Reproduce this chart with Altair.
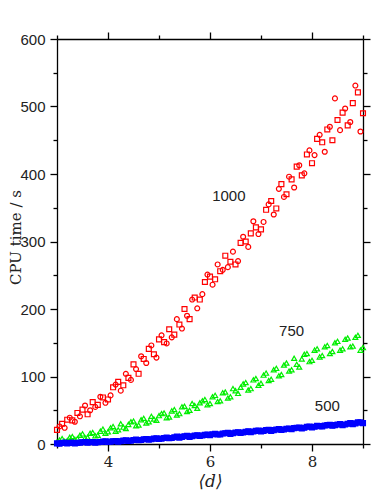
import altair as alt
import pandas as pd

# x grids
x_a = [3.0, 3.1, 3.2, 3.3, 3.4, 3.5, 3.6, 3.7, 3.8, 3.9,
       4.0, 4.1, 4.2, 4.3, 4.4, 4.5, 4.6, 4.7, 4.8, 4.9,
       5.0, 5.1, 5.2, 5.3, 5.4, 5.5, 5.6, 5.7, 5.8, 5.9,
       6.0, 6.1, 6.2, 6.3, 6.4, 6.5, 6.6, 6.7, 6.8, 6.9,
       7.0, 7.1, 7.2, 7.3, 7.4, 7.5, 7.6, 7.7, 7.8, 7.9,
       8.0, 8.1, 8.2, 8.3, 8.4, 8.5, 8.6, 8.7, 8.8, 8.9, 9.0]
x_b = [3.05, 3.15, 3.25, 3.35, 3.45, 3.55, 3.65, 3.75, 3.85, 3.95,
       4.05, 4.15, 4.25, 4.35, 4.45, 4.55, 4.65, 4.75, 4.85, 4.95,
       5.05, 5.15, 5.25, 5.35, 5.45, 5.55, 5.65, 5.75, 5.85, 5.95,
       6.05, 6.15, 6.25, 6.35, 6.45, 6.55, 6.65, 6.75, 6.85, 6.95,
       7.05, 7.15, 7.25, 7.35, 7.45, 7.55, 7.65, 7.75, 7.85, 7.95,
       8.05, 8.15, 8.25, 8.35, 8.45, 8.55, 8.65, 8.75, 8.85, 8.95]

# N = 1000 (red): squares on x_a, circles on x_b
red_sq = [21, 30, 36, 35, 46, 51, 44, 62, 58, 69,
          66, 84, 92, 87, 98, 118, 104, 126, 141, 133,
          155, 151, 170, 162, 177, 200, 185, 217, 214, 240,
          248, 244, 256, 279, 270, 266, 298, 300, 312, 321,
          318, 347, 360, 349, 385, 370, 392, 411, 398, 429,
          416, 452, 447, 466, 450, 480, 491, 472, 505, 521, 490]
red_ci = [26, 24, 39, 33, 41, 57, 50, 55, 70, 61,
          72, 88, 79, 104, 95, 111, 130, 120, 146, 128,
          161, 149, 158, 185, 171, 190, 214, 201, 222, 251,
          236, 266, 258, 262, 285, 271, 307, 292, 330, 311,
          329, 355, 340, 378, 366, 396, 380, 413, 401, 435,
          428, 458, 433, 470, 512, 465, 497, 477, 531, 463]

# N = 750 (green triangles)
green_a = [3, 8, 5, 11, 8, 15, 10, 17, 13, 22,
           18, 26, 21, 25, 29, 34, 28, 38, 33, 37,
           42, 46, 40, 51, 45, 56, 50, 57, 61, 66,
           60, 72, 64, 77, 70, 79, 84, 91, 82, 97,
           90, 105, 96, 112, 103, 120, 110, 118, 126, 134,
           124, 141, 131, 146, 137, 152, 141, 157, 145, 161, 143]
green_b = [6, 4, 10, 7, 13, 9, 16, 12, 19, 16,
           24, 19, 30, 23, 33, 27, 36, 31, 41, 35,
           45, 39, 49, 43, 55, 48, 60, 53, 64, 58,
           70, 63, 76, 68, 82, 75, 89, 80, 95, 87,
           102, 94, 110, 101, 117, 108, 127, 114, 133, 122,
           139, 129, 144, 134, 150, 139, 155, 144, 158, 139]

# N = 500 (blue squares)
blue_a = [1, 1.5, 1, 2, 1.5, 2.5, 2, 3, 2.5, 3.5,
          3, 4, 3.5, 5, 4.5, 6, 5.5, 7, 6.5, 8,
          7.5, 9, 8.5, 10, 9.5, 11.5, 10.5, 12.5, 12, 13.5,
          13, 15, 14, 16, 15, 17, 16.5, 18, 17.5, 19.5,
          18.5, 20.5, 19.5, 21.5, 21, 22.5, 22, 24, 23, 25.5,
          24.5, 27, 26, 28, 27, 29, 28, 30, 29.5, 32, 31]
blue_b = [0.5, 2, 1.5, 1, 2, 3, 2.5, 2, 3, 4,
          3.5, 4.5, 4, 5.5, 5, 6.5, 6, 7.5, 7, 8.5,
          8, 9.5, 9, 11, 10.5, 12, 11.5, 13, 12.5, 14,
          14.5, 14, 15.5, 16.5, 16, 17.5, 17, 19, 18.5, 20,
          19.5, 21, 20.5, 22, 21.5, 23, 23.5, 24.5, 24, 26,
          25.5, 26.5, 27.5, 28.5, 28, 29.5, 29, 31, 30.5, 32]

labels = ["1000", "750", "500"]
label_x = [6.37, 7.6, 8.3]
label_y = [367, 167, 56]

y_ticks = [0, 50, 100, 150, 200, 250, 300, 350, 400, 450, 500, 550, 600]
x_ticks = [3, 4, 5, 6, 7, 8, 9]

rows = []
for xs, ys, s in [(x_a, green_a, "g"), (x_b, green_b, "g"),
                  (x_a, blue_a, "b"), (x_b, blue_b, "b"),
                  (x_a, red_sq, "rs"), (x_b, red_ci, "rc")]:
    for xv, yv in zip(xs, ys):
        rows.append({"x": xv, "y": yv, "s": s})
df = pd.DataFrame(rows)
lab_df = pd.DataFrame({"t": labels, "x": label_x, "y": label_y})

series = ["rs", "rc", "g", "b"]
xscale = alt.Scale(domain=[3, 9], nice=False, zero=False)
yscale = alt.Scale(domain=[0, 600], nice=False)

common_axis = dict(domainColor="black", domainWidth=1.3, tickColor="black",
                   tickWidth=1.3, grid=False)

y_tick_size = {"condition": {"test": "datum.value % 100 === 0", "value": 7}, "value": 4}
x_tick_size = {"condition": {"test": "datum.value % 2 === 0", "value": 7}, "value": 4}

x_bottom = alt.Axis(orient="bottom", values=x_ticks, tickSize=x_tick_size,
                    labelExpr="datum.value % 2 === 0 ? datum.label : ''",
                    labelFont="DejaVu Serif", labelFontSize=15, labelColor="#222",
                    labelPadding=3, labelFlush=False,
                    title="⟨d⟩", titleFont="DejaVu Serif", titleFontStyle="italic",
                    titleFontSize=17, titleFontWeight="normal", titleColor="#222",
                    titleY=37, titleBaseline="middle", **common_axis)
y_left = alt.Axis(orient="left", values=y_ticks, tickSize=y_tick_size,
                  labelExpr="datum.value % 100 === 0 ? datum.label : ''",
                  labelFont="Liberation Sans", labelFontSize=15, labelColor="#222",
                  labelPadding=5, labelFlush=False,
                  title="CPU time / s", titleFont="DejaVu Serif", titleFontSize=15,
                  titleFontWeight="normal", titleColor="#222",
                  titleX=-42, titleY=198, titleBaseline="middle", **common_axis)
x_top = alt.Axis(orient="top", values=x_ticks, tickSize=x_tick_size, labels=False,
                 title=None, **common_axis)
y_right = alt.Axis(orient="right", values=y_ticks, tickSize=y_tick_size, labels=False,
                   title=None, **common_axis)

points = alt.Chart(df).mark_point(size=24, strokeWidth=1.2, filled=False, opacity=1).encode(
    x=alt.X("x:Q", scale=xscale, axis=x_bottom),
    y=alt.Y("y:Q", scale=yscale, axis=y_left),
    color=alt.Color("s:N", scale=alt.Scale(domain=series,
                    range=["#ff0000", "#ff0000", "#00ee00", "#0000ff"]), legend=None),
    shape=alt.Shape("s:N", scale=alt.Scale(domain=series,
                    range=["square", "circle", "triangle-up", "square"]), legend=None),
    fill=alt.Fill("s:N", scale=alt.Scale(domain=series,
                  range=["transparent", "transparent", "transparent", "#0000ff"]), legend=None),
)

frame = alt.Chart(df).mark_point(opacity=0).encode(
    x=alt.X("x:Q", scale=xscale, axis=x_top),
    y=alt.Y("y:Q", scale=yscale, axis=y_right),
)

texts = alt.Chart(lab_df).mark_text(font="Liberation Sans", fontSize=15, color="#222",
                                     align="center", baseline="middle").encode(
    x=alt.X("x:Q", scale=xscale, axis=None),
    y=alt.Y("y:Q", scale=yscale, axis=None),
    text="t:N",
)

chart = alt.layer(points, frame, texts).resolve_axis(
    x="independent", y="independent"
).properties(
    width=306, height=405,
    autosize=alt.AutoSizeParams(type="none"),
    padding={"left": 49, "top": 31, "right": 17, "bottom": 47},
    background="white",
).configure_view(stroke=None)

chart.save("out.html", embed_options={"renderer": "svg", "actions": False})
